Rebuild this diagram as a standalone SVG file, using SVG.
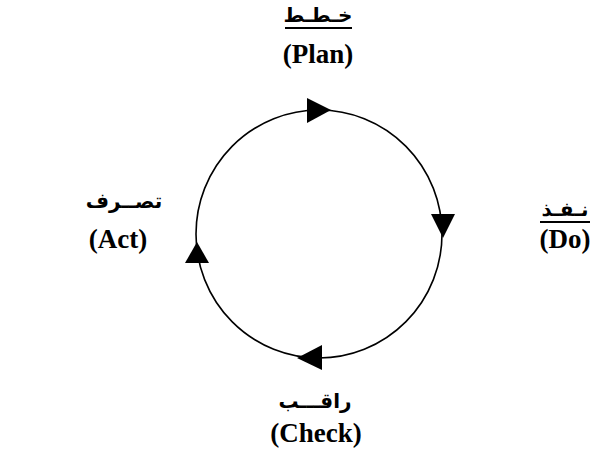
<svg xmlns="http://www.w3.org/2000/svg" width="603" height="457" viewBox="0 0 603 457">
<style>
.ar{font-family:"DejaVu Sans","Noto Sans",sans-serif;font-size:20px;font-weight:bold;fill:#000}
.en{font-family:"Liberation Serif","Times New Roman",serif;font-size:27px;font-weight:bold;fill:#000}
.ul{stroke:#000;stroke-width:1.8}
.arrow{fill:#000}
</style>
<rect width="603" height="457" fill="#fff"/>
<g id="connectors">
<ellipse cx="319" cy="234" rx="123" ry="124" fill="none" stroke="#000" stroke-width="1.6"/>
<polygon class="arrow" points="307,98 307,123 331,110"/>
<polygon class="arrow" points="431,214 455,214 443,238"/>
<polygon class="arrow" points="322,345 322,370 297,358"/>
<polygon class="arrow" points="185,263 209,263 197,242"/>
</g>
<g id="plan">
<text class="ar" x="318" y="22" text-anchor="middle" direction="rtl">خـطـط</text>
<line class="ul" x1="285" y1="28" x2="352" y2="28"/>
<text class="en" x="318" y="63" text-anchor="middle">(Plan)</text>
</g>
<g id="do">
<text class="ar" x="565" y="216" text-anchor="middle" direction="rtl">نـفـذ</text>
<line class="ul" x1="540" y1="222" x2="590" y2="222"/>
<text class="en" x="565" y="248" text-anchor="middle">(Do)</text>
</g>
<g id="check">
<text class="ar" x="315" y="408" text-anchor="middle" direction="rtl">راقـــب</text>
<text class="en" x="316" y="442" text-anchor="middle">(Check)</text>
</g>
<g id="act">
<text class="ar" x="124" y="208" text-anchor="middle" direction="rtl">تصــرف</text>
<text class="en" x="118" y="248" text-anchor="middle">(Act)</text>
</g>
</svg>
